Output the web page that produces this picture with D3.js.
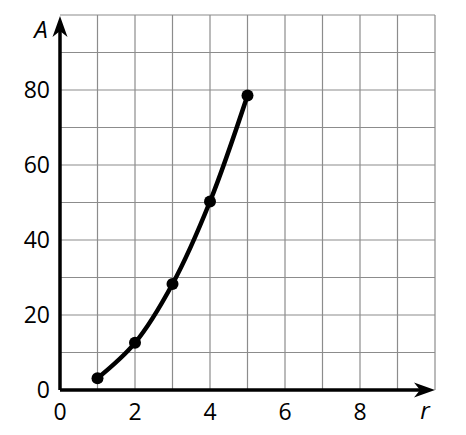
<!DOCTYPE html>
<html>
<head>
<meta charset="utf-8">
<script src="https://cdn.jsdelivr.net/npm/d3@7"></script>
<style>
  body { margin: 0; background: #fff; }
  text { font-family: "Open Sans", "Noto Sans", sans-serif; }
</style>
</head>
<body>
<div id="chart"></div>
<script>
// radius r and area A = pi r^2
const radii = [1, 2, 3, 4, 5];
const areas = [3.14, 12.57, 28.27, 50.27, 78.54];
const xTickLabels = [0, 2, 4, 6, 8];
const yTickLabels = [0, 20, 40, 60, 80];

const width = 466, height = 435;
const margin = { top: 15, right: 31, bottom: 45, left: 60 };
const plotWidth = width - margin.left - margin.right;
const plotHeight = height - margin.top - margin.bottom;

const svg = d3.select('#chart')
    .append('svg')
    .attr('width', width)
    .attr('height', height);

const plot = svg.append('g')
    .attr('transform', `translate(${margin.left},${margin.top})`);

const xScale = d3.scaleLinear().domain([0, 10]).range([0, plotWidth]);
const yScale = d3.scaleLinear().domain([0, 100]).range([plotHeight, 0]);

// grid
const grid = plot.append('g').attr('stroke', '#8c8c8c').attr('stroke-width', 1.2);
grid.selectAll('line.v')
    .data(d3.range(1, 11))
    .join('line')
    .attr('x1', d => xScale(d)).attr('x2', d => xScale(d))
    .attr('y1', 0).attr('y2', plotHeight);
grid.selectAll('line.h')
    .data(d3.range(10, 101, 10))
    .join('line')
    .attr('x1', 0).attr('x2', plotWidth)
    .attr('y1', d => yScale(d)).attr('y2', d => yScale(d));

// axes with arrowheads
const axes = plot.append('g');
axes.append('line')
    .attr('x1', 0).attr('x2', plotWidth - 14)
    .attr('y1', plotHeight).attr('y2', plotHeight)
    .attr('stroke', '#000').attr('stroke-width', 3.5);
axes.append('line')
    .attr('x1', 0).attr('x2', 0)
    .attr('y1', plotHeight).attr('y2', 14)
    .attr('stroke', '#000').attr('stroke-width', 3.5);
axes.append('path')
    .attr('d', `M${plotWidth},${plotHeight} L${plotWidth - 21},${plotHeight - 7.5} L${plotWidth - 15},${plotHeight} L${plotWidth - 21},${plotHeight + 7.5} Z`)
    .attr('fill', '#000');
axes.append('path')
    .attr('d', `M0,1 L-7.5,22 L0,16 L7.5,22 Z`)
    .attr('fill', '#000');

// tick labels
plot.append('g')
    .selectAll('text')
    .data(xTickLabels)
    .join('text')
    .attr('x', d => xScale(d))
    .attr('y', plotHeight + 30)
    .attr('text-anchor', 'middle')
    .attr('font-size', 23)
    .text(d => d);

plot.append('g')
    .selectAll('text')
    .data(yTickLabels)
    .join('text')
    .attr('x', -10)
    .attr('y', d => yScale(d))
    .attr('dy', '0.36em')
    .attr('text-anchor', 'end')
    .attr('font-size', 23)
    .text(d => d);

// axis titles
svg.append('text')
    .attr('x', 41).attr('y', 38)
    .attr('text-anchor', 'middle')
    .attr('font-size', 24)
    .attr('font-style', 'italic')
    .text('A');
svg.append('text')
    .attr('x', 425).attr('y', 419)
    .attr('text-anchor', 'middle')
    .attr('font-size', 24)
    .attr('font-style', 'italic')
    .text('r');

// curve and points
const points = radii.map((r, i) => [r, areas[i]]);
const line = d3.line()
    .x(d => xScale(d[0]))
    .y(d => yScale(d[1]))
    .curve(d3.curveCatmullRom);

plot.append('path')
    .datum(points)
    .attr('fill', 'none')
    .attr('stroke', '#000')
    .attr('stroke-width', 4.5)
    .attr('stroke-linejoin', 'round')
    .attr('stroke-linecap', 'round')
    .attr('d', line);

plot.append('g')
    .selectAll('circle')
    .data(points)
    .join('circle')
    .attr('cx', d => xScale(d[0]))
    .attr('cy', d => yScale(d[1]))
    .attr('r', 6)
    .attr('fill', '#000');
</script>
</body>
</html>
